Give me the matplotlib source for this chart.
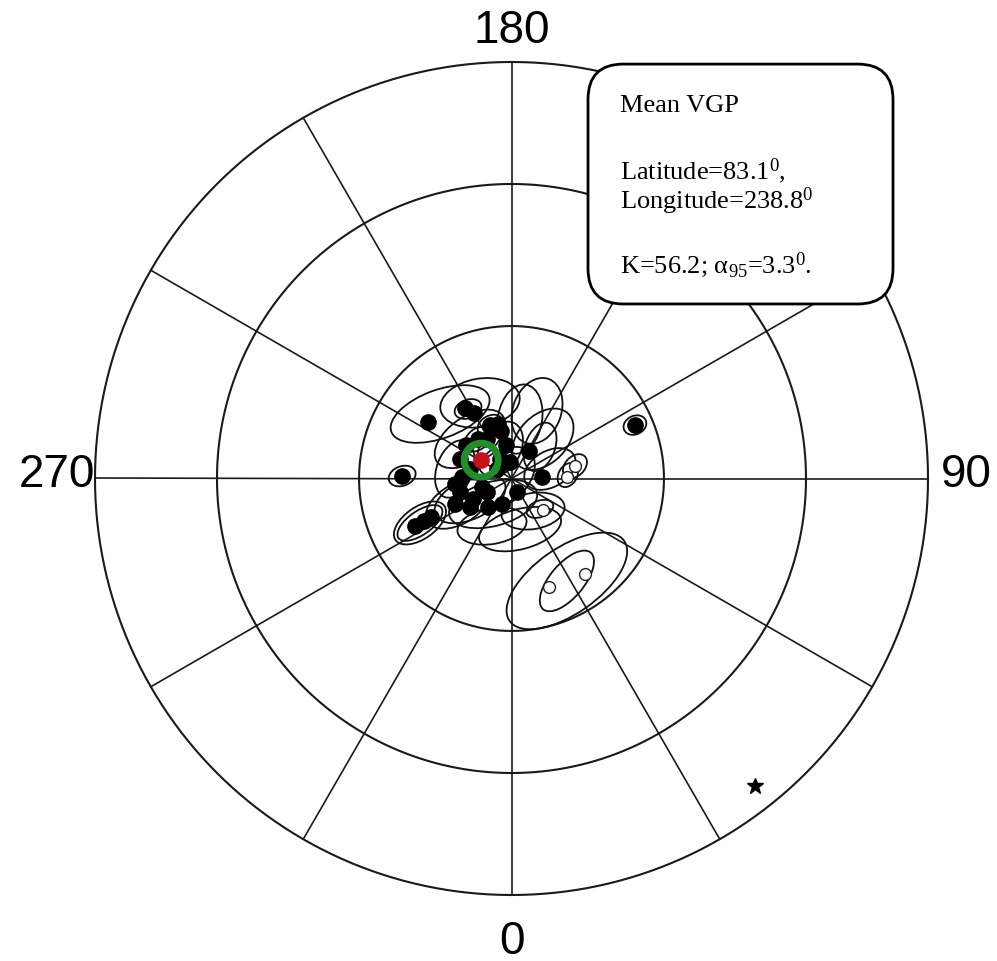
import numpy as np
import matplotlib
matplotlib.use("Agg")
import matplotlib.pyplot as plt
from matplotlib.patches import Ellipse, FancyBboxPatch

plt.rcParams['mathtext.fontset'] = 'custom'
plt.rcParams['mathtext.rm'] = 'Liberation Serif'
plt.rcParams['mathtext.it'] = 'Liberation Serif:italic'

# VGPs (longitude, latitude)
normal_lon = [236.0, 268.7, 113.4, 296.2, 295.9, 295.6, 213.4, 209.8,
              201.9, 192.5, 189.3, 233.6, 257.1, 236.8, 284.7, 298.0,
              298.9, 304.5, 339.6, 22.2, 275.6, 147.5, 92.8, 184.8, 211.8,
              220.3, 249.3, 268.3, 286.1, 320.5, 294.3, 210.5, 193.9]
normal_lat = [70.3, 68.6, 63.6, 68.9, 71.0, 72.6, 73.5, 75.3,
              78.8, 80.5, 83.4, 79.0, 81.7, 86.6, 79.6, 81.5,
              84.6, 80.2, 84.7, 87.2, 78.9, 83.7, 84.1, 86.7, 80.9,
              79.9, 79.3, 80.4, 84.0, 82.8, 77.9, 85.6, 79.1]

open_lon = [91.5, 101.1, 45.0, 19.1, 37.6]
open_lat = [79.2, 77.4, 81.3, 67.5, 66.4]

# confidence ellipses: centre, semi-axes (deg), orientation
ell_lon = [227.9, 268.7, 113.4, 295.9, 295.9, 212.0, 202.6, 159.3, 141.4,
           324.0, 337.7, 295.5, 33.5, 201.3, 226.4, 93.5, 101.0, 43.1,
           28.4, 28.4, 137.9, 171.9, 260.5, 272.5, 296.3, 9.6, 103.9,
           201.9, 220.3]
ell_lat = [71.2, 68.6, 63.6, 70.1, 70.1, 74.0, 74.0, 75.9, 80.2,
           83.9, 80.0, 78.4, 82.4, 83.9, 78.8, 79.0, 77.4, 81.9,
           67.2, 67.2, 81.7, 78.3, 78.8, 87.8, 81.0, 80.0, 82.3,
           78.8, 79.9]
ell_a = [10.1, 2.7, 2.3, 5.1, 5.8, 2.7, 7.8, 6.6, 7.0,
         8.8, 6.8, 6.8, 6.2, 5.8, 7.8, 2.5, 2.7, 2.7,
         7.2, 13.6, 4.9, 6.8, 5.8, 7.8, 7.4, 8.2, 5.4,
         2.6, 3.0]
ell_b = [4.7, 1.9, 1.8, 2.3, 3.1, 1.8, 4.7, 4.7, 4.7,
         4.3, 3.5, 3.9, 3.5, 3.9, 4.3, 1.8, 1.9, 1.6,
         3.3, 6.4, 2.9, 4.3, 3.5, 4.9, 3.9, 3.9, 3.5,
         1.8, 2.0]
ell_ang = [20, 20, 25, 35, 35, 20, 10, 70, 45,
           15, 10, 30, 10, 60, 35, 60, 45, 20,
           50, 35, 70, 80, 70, 40, 25, 15, 30,
           30, 40]

mean_lon, mean_lat, a95 = 238.8, 83.1, 3.3
site_lon, site_lat = 38.4, 6.5

lat_circles = [60, 30, 0]
meridians = np.arange(0, 360, 30)
lon_labels = {0: "0", 90: "90", 180: "180", 270: "270"}


def proj(lon, lat):
    # Lambert equal-area, north pole at centre, equator radius = 1
    lon = np.radians(np.asarray(lon, float))
    c = np.radians(90 - np.asarray(lat, float))
    r = np.sin(c / 2) / np.sin(np.pi / 4)
    return r * np.sin(lon), -r * np.cos(lon)


DEG = np.radians(1) / (2 * np.sin(np.pi / 4))

fig = plt.figure(figsize=(9.97, 9.62), dpi=100)
ax = fig.add_axes([0, 0, 1, 1])
ax.set_xlim(-511.5 / 416.5, 485.5 / 416.5)
ax.set_ylim(-482.5 / 416.5, 479.5 / 416.5)
ax.set_aspect('equal')
ax.axis('off')

# graticule
t = np.linspace(0, 360, 721)
for la in lat_circles:
    x, y = proj(t, np.full_like(t, la))
    ax.plot(x, y, color='#1a1a1a', lw=1.5, zorder=1)
for lo in meridians:
    x, y = proj([lo, lo], [90, 0])
    ax.plot(x, y, color='#1a1a1a', lw=1.2, zorder=1)

label_r = {0: 1.11, 90: 1.091, 180: 1.078, 270: 1.091}
for lo, s in lon_labels.items():
    x, y = proj(lo, 0)
    rr = label_r[lo]
    ax.text(x * rr, y * rr + (0.012 if lo in (90, 270) else 0), s,
            ha='center', va='center', fontsize=33,
            family='Liberation Sans', zorder=5)

# ellipses
for lo, la, a, b, ang in zip(ell_lon, ell_lat, ell_a, ell_b, ell_ang):
    x, y = proj(lo, la)
    ax.add_patch(Ellipse((x, y), 2 * a * DEG, 2 * b * DEG, angle=ang,
                         fill=False, ec='#111111', lw=1.3, zorder=2))

x, y = proj(normal_lon, normal_lat)
ax.plot(x, y, 'o', ms=11, color='black', zorder=3)
x, y = proj(open_lon, open_lat)
ax.plot(x, y, 'o', ms=8.5, mfc='white', mec='#222222', mew=1.0, zorder=3)
x, y = proj(site_lon, site_lat)
ax.plot(x, y, '*', ms=12, color='black', zorder=3)

# mean pole and alpha95 circle
th = np.radians(np.linspace(0, 360, 181))
d = np.radians(a95)
p1, l1 = np.radians(mean_lat), np.radians(mean_lon)
p2 = np.arcsin(np.sin(p1) * np.cos(d) + np.cos(p1) * np.sin(d) * np.cos(th))
l2 = l1 + np.arctan2(np.sin(th) * np.sin(d) * np.cos(p1),
                     np.cos(d) - np.sin(p1) * np.sin(p2))
x, y = proj(np.degrees(l2), np.degrees(p2))
ax.plot(x, y, color='#1f8f2a', lw=5, zorder=4)
x, y = proj(mean_lon, mean_lat)
ax.plot(x, y, 'o', ms=11, color='#c8101a', zorder=5)

# text box
box = FancyBboxPatch((0.1837, 0.419), 0.916 - 0.1837, 0.995 - 0.419,
                     boxstyle="round,pad=0,rounding_size=0.085",
                     fc='white', ec='black', lw=2, zorder=6)
ax.add_patch(box)
lines = ["Mean VGP",
         r"Latitude=83.1$^{\mathrm{0}}$,",
         r"Longitude=238.8$^{\mathrm{0}}$",
         r"K=56.2; α$_{\mathrm{95}}$=3.3$^{\mathrm{0}}$."]
ys = [0.8823, 0.7215, 0.6495, 0.4958]
for s, yy in zip(lines, ys):
    ax.text(0.2605, yy, s, ha='left', va='baseline', fontsize=19,
            family='Liberation Serif', zorder=7)

fig.savefig("out.png", dpi=100)
